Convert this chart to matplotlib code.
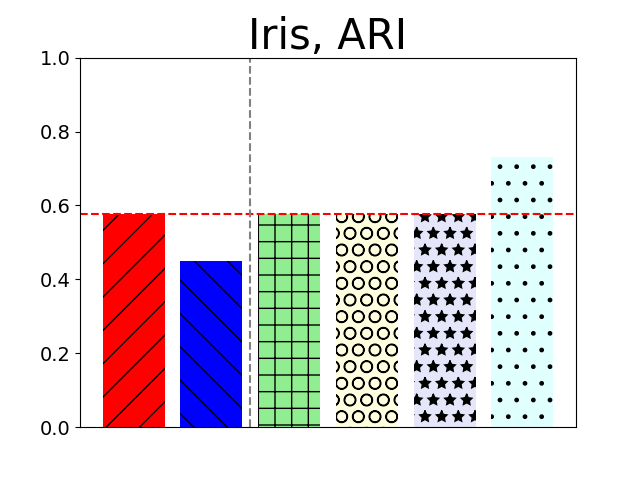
import matplotlib
matplotlib.use('Agg')
import matplotlib.pyplot as plt

VALUES = [0.578, 0.45, 0.578, 0.578, 0.578, 0.732]
COLORS = ['red', 'blue', 'lightgreen', 'lightyellow', 'lavender', 'lightcyan']
HATCHES = ['/', '\\', '+', 'O', '*', '.']
BASELINE = 0.578
SPLIT = 1.5
TITLE = 'Iris, ARI'


def plotBars():
    fig, ax = plt.subplots(figsize=(6.4, 4.8), dpi=100)
    positions = range(len(VALUES))
    for i in positions:
        ax.bar(i, VALUES[i], width=0.8, color=COLORS[i], hatch=HATCHES[i])
    ax.axhline(BASELINE, color='red', linestyle='--')
    ax.axvline(SPLIT, color='gray', linestyle='--')
    ax.set_ylim(0, 1)
    ax.set_xticks([])
    ax.tick_params(axis='y', labelsize=14)
    ax.set_title(TITLE, fontsize=30)
    fig.savefig('out.png')


if __name__ == '__main__':
    plotBars()
